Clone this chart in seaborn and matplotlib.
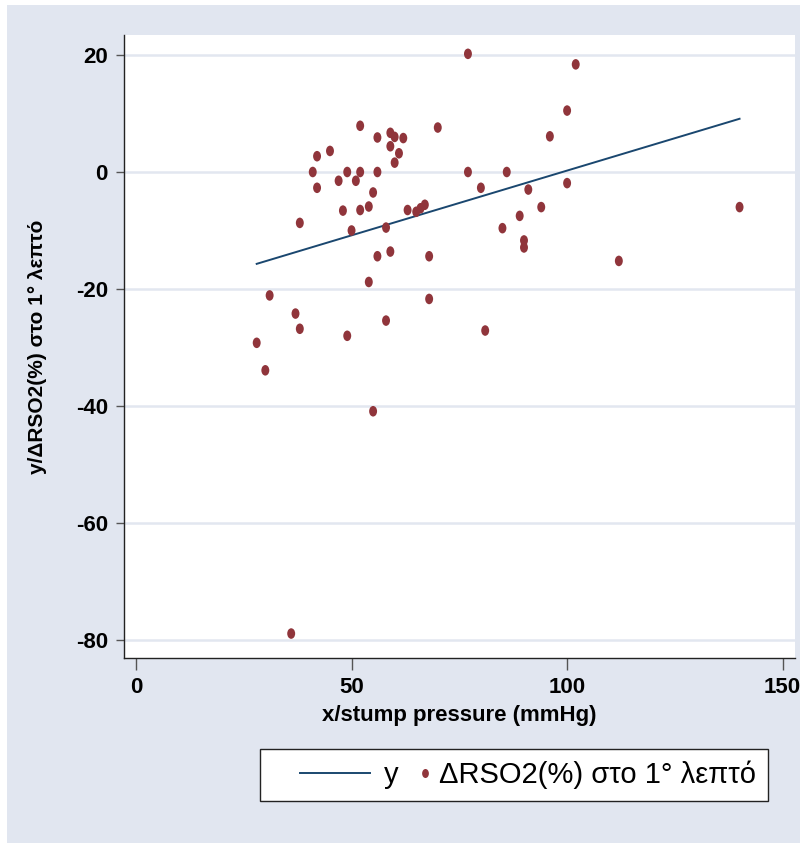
import numpy as np
import pandas as pd
import matplotlib
matplotlib.use("Agg")
import matplotlib.pyplot as plt
import seaborn as sns
from matplotlib.path import Path
from matplotlib.patches import Rectangle
from matplotlib.lines import Line2D

# ---- data ----
pressure = [28, 30, 31, 37, 38, 38, 36, 41, 42, 42, 45, 47, 48, 49, 49, 50, 51,
            52, 52, 52, 54, 54, 55, 55, 56, 56, 56, 58, 58, 59, 59, 59, 60, 61,
            60, 62, 63, 65, 66, 67, 68, 68, 70, 77, 77, 80, 81, 85, 86, 89, 90,
            90, 91, 94, 96, 100, 100, 102, 112, 140]
delta_rso2 = [-29.2, -33.9, -21.1, -24.2, -26.8, -8.7, -78.9, 0, 2.7, -2.7, 3.6,
              -1.5, -6.6, 0, -28.0, -10.0, -1.5, 7.9, 0, -6.5, -5.9, -18.8, -3.5,
              -40.9, 5.9, 0, -14.4, -9.5, -25.4, 6.7, 4.4, -13.6, 6.0, 3.2, 1.6,
              5.8, -6.5, -6.8, -6.2, -5.6, -14.4, -21.7, 7.6, 20.2, 0, -2.7, -27.1,
              -9.6, 0, -7.5, -11.7, -12.9, -3.0, -6.0, 6.1, 10.5, -1.9, 18.4,
              -15.2, -6.0]
fit_x = [28, 140]
fit_y = [-15.7, 9.1]
x_ticks = [0, 50, 100, 150]
y_ticks = [-80, -60, -40, -20, 0, 20]
x_label = "x/stump pressure (mmHg)"
y_label = "y/ΔRSO2(%) στο 1° λεπτό"
legend_labels = ["y", "ΔRSO2(%) στο 1° λεπτό"]

RED = "#90353B"
NAVY = "#1A476F"
BG = "#E1E6F0"
GRID = "#E2E7F0"

plt.rcParams['font.family'] = ['Liberation Sans', 'DejaVu Sans']

W, H = 805, 843
fig = plt.figure(figsize=(W / 100, H / 100), dpi=100)
fig.patch.set_facecolor("white")
fig.add_artist(Rectangle((7 / W, 0), (800 - 7) / W, (H - 5) / H,
                         transform=fig.transFigure, facecolor=BG,
                         edgecolor="none", zorder=-10))

ax = fig.add_axes([124 / W, 1 - 658 / H, (795 - 124) / W, (658 - 35) / H])
ax.set_facecolor("white")

circ = Path.unit_circle()
ell = Path(circ.vertices * np.array([0.75, 1.0]), circ.codes)

df = pd.DataFrame({"x": pressure, "y": delta_rso2})
fit = pd.DataFrame({"x": fit_x, "y": fit_y})

sns.lineplot(data=fit, x="x", y="y", color=NAVY, linewidth=1.4, ax=ax, zorder=3)
sns.scatterplot(data=df, x="x", y="y", color=RED, marker=ell, s=58,
                linewidth=0, edgecolor="none", ax=ax, zorder=4)

ax.set_xlim(-2.78, 152.86)
ax.set_ylim(-83.08, 23.42)
ax.set_xticks(x_ticks)
ax.set_yticks(y_ticks)
ax.set_xticklabels([str(v) for v in x_ticks], fontweight="bold", fontsize=16)
ax.set_yticklabels([str(v) for v in y_ticks], fontweight="bold", fontsize=16)
ax.yaxis.grid(True, color=GRID, linewidth=1.8)
ax.xaxis.grid(False)
ax.set_axisbelow(True)
for s in ["top", "right"]:
    ax.spines[s].set_visible(False)
for s in ["left", "bottom"]:
    ax.spines[s].set_color("#222222")
    ax.spines[s].set_linewidth(1.0)
ax.tick_params(axis="y", length=5.8, width=1, color="#555555", pad=5.8)
ax.tick_params(axis="x", length=8.6, width=1, color="#555555", pad=5)

ax.set_xlabel(x_label, fontweight="bold", fontsize=16, labelpad=5)
ax.set_ylabel(y_label, fontweight="bold", fontsize=15, labelpad=21)

handles = [Line2D([], [], color=NAVY, linewidth=1.4),
           Line2D([], [], linestyle="none", marker=ell, markersize=6.5,
                  color=RED, markeredgewidth=0)]
leg = ax.legend(handles, legend_labels, ncol=2, loc="upper right",
                bbox_to_anchor=(768 / W, 1 - 749 / H),
                bbox_transform=fig.transFigure, frameon=True, fancybox=False,
                edgecolor="#222222", facecolor="white", framealpha=1,
                fontsize=21, handlelength=0.6, handletextpad=0.2,
                columnspacing=0.6, borderpad=0.4, borderaxespad=0)
leg.get_frame().set_linewidth(1.0)

# widen the first (line) key so the line is long, like the reference
try:
    cols = leg._legend_handle_box.get_children()
    da = cols[0].get_children()[0].get_children()[0]
    px = 72 / 100
    lead, llen, trail = 28 * px, 70 * px, 8 * px
    da.width = lead + llen + trail
    ln = leg.legend_handles[0]
    ln.set_xdata(np.linspace(lead, lead + llen, 3))
except Exception:
    pass

fig.savefig("out.png", dpi=100, facecolor=fig.get_facecolor())
